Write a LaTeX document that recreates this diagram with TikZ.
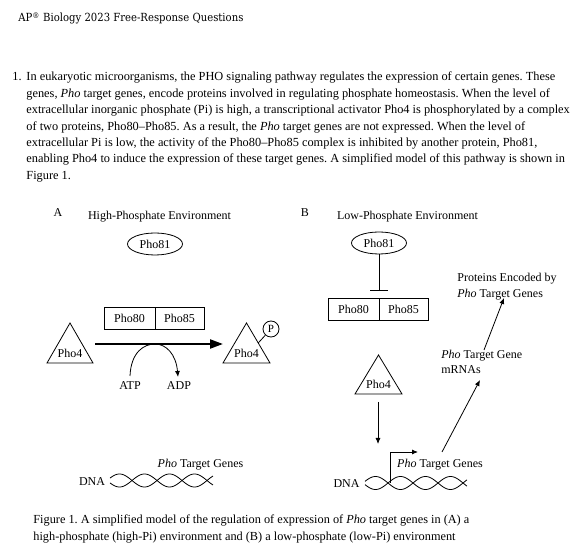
\documentclass[tikz,border=0pt]{standalone}
\usepackage{fontspec}
\setmainfont{Liberation Serif}
\newfontfamily\hdr{DejaVu Serif Condensed}
\usetikzlibrary{arrows.meta,shapes.geometric}
\begin{document}
\frenchspacing
\begin{tikzpicture}[x=1pt,y=-1pt,line width=0.8pt,
  every node/.style={inner sep=0pt},
  f/.style={font=\fontsize{12}{14}\selectfont},
  ln/.style={font=\fontsize{12.35}{14}\selectfont, anchor=base west},
  captxt/.style={font=\fontsize{12.3}{14}\selectfont, anchor=base west},
  cell/.style={draw, f, minimum height=22pt, line width=0.8pt},
  oval/.style={draw, ellipse, f, minimum width=55pt, minimum height=22pt, line width=0.8pt},
  arr/.style={-{Latex[length=6pt,width=5pt]}},
  helix/.style={line width=0.8pt}]
\useasboundingbox (0,0) rectangle (579,553);
\fill[white] (0,0) rectangle (579,553);

% header
\node[anchor=base west, font=\hdr\fontsize{11.2}{12}\selectfont] (hdr) at (18,22) {AP\textsuperscript{®} Biology 2023 Free-Response Questions};

% question text
\node[ln] (q1) at (12,81) {1.};
\node[ln] (l1) at (26,81) {In eukaryotic microorganisms, the PHO signaling pathway regulates the expression of certain genes. These};
\node[ln] (l2) at (26,97.4) {genes, \textit{Pho} target genes, encode proteins involved in regulating phosphate homeostasis. When the level of};
\node[ln] (l3) at (26,113.8) {extracellular inorganic phosphate (Pi) is high, a transcriptional activator Pho4 is phosphorylated by a complex};
\node[ln] (l4) at (26,130.2) {of two proteins, Pho80–Pho85. As a result, the \textit{Pho} target genes are not expressed. When the level of};
\node[ln] (l5) at (26,146.6) {extracellular Pi is low, the activity of the Pho80–Pho85 complex is inhibited by another protein, Pho81,};
\node[ln] (l6) at (26,163) {enabling Pho4 to induce the expression of these target genes. A simplified model of this pathway is shown in};
\node[ln] (l7) at (26,179.4) {Figure 1.};

% ---------- Panel A ----------
\node[f] (A) at (58,213) {A};
\node[f] (Ahead) at (159.5,217) {High-Phosphate Environment};
\node[oval] (a81) at (155,244) {Pho81};
\node[cell, minimum width=51pt] (a80) at (129.5,318) {Pho80};
\node[cell, minimum width=49pt] (a85) at (179.5,318) {Pho85};

\draw[line join=miter] (47,363) -- (70,323) -- (93,363) -- cycle;
\node[f] (pho4a) at (70,353) {Pho4};
\draw[line join=miter] (223,363) -- (246.5,323) -- (270,363) -- cycle;
\node[f] (pho4p) at (246.5,353) {Pho4};
\node[draw, circle, minimum size=16pt, font=\fontsize{11}{12}\selectfont] (pp) at (271,329) {P};
\coordinate (pl) at (258.2,343);
\draw (pl) -- (pp);

\coordinate (ba1) at (95,344);
\coordinate (ba2) at (223,344);
\draw[line width=2.2pt, -{Triangle[length=13pt,width=9pt]}] (ba1) -- (ba2);

\node[f] (atp) at (130,386) {ATP};
\node[f] (adp) at (179,386) {ADP};
\coordinate (c1) at (130,376);
\coordinate (c2) at (178,377);
\draw[arr] (c1) .. controls (131,352) and (144,344) .. (155,344) .. controls (166,344) and (176,354) .. (c2);

\node[f] (dnaa) at (92,482) {DNA};
\node[f] (pga) at (200.5,465) {\textit{Pho} Target Genes};
\draw[helix] plot[domain=110:213, samples=90, smooth] (\x, {480.5-6.5*sin(7.2*(\x-107))});
\draw[helix] plot[domain=110:213, samples=90, smooth] (\x, {480.5+6.5*sin(7.2*(\x-107))});

% ---------- Panel B ----------
\node[f] (B) at (305,213) {B};
\node[f] (Bhead) at (407.5,217) {Low-Phosphate Environment};
\node[oval] (b81) at (379,243) {Pho81};
\node[cell, minimum width=51pt] (b80) at (353.5,309) {Pho80};
\node[cell, minimum width=49pt] (b85) at (403.5,309) {Pho85};
\coordinate (bbar) at (379,291);
\draw[-{Bar[width=18pt]}] (b81) -- (bbar);

\node[f, align=left, anchor=north west, font=\fontsize{12}{16}\selectfont] (prot) at (457,273) {Proteins Encoded by\\\textit{Pho} Target Genes};
\node[f, align=left, anchor=north west, font=\fontsize{12}{15}\selectfont] (mrna) at (441,350) {\textit{Pho} Target Gene\\mRNAs};
\coordinate (p1) at (484,350);
\coordinate (p2) at (504,298);
\draw[arr] (p1) -- (p2);
\coordinate (m1) at (442,452);
\coordinate (m2) at (480,380);
\draw[arr] (m1) -- (m2);

\draw[line join=miter] (355,394) -- (378.5,355) -- (402,394) -- cycle;
\node[f] (pho4b) at (378.5,384) {Pho4};
\coordinate (d1) at (378,402);
\coordinate (d2) at (378,444);
\draw[arr] (d1) -- (d2);

\node[f] (dnab) at (346.5,484) {DNA};
\node[f] (pgb) at (440,465) {\textit{Pho} Target Genes};
\draw[helix] plot[domain=365:467, samples=90, smooth] (\x, {483-6.5*sin(7.2*(\x-363))});
\draw[helix] plot[domain=365:467, samples=90, smooth] (\x, {483+6.5*sin(7.2*(\x-363))});
\coordinate (pr0) at (390,483);
\coordinate (pr1) at (418,452);
\draw[arr] (pr0) |- (pr1);

% caption
\node[captxt] (cap1) at (33,523) {Figure 1. A simplified model of the regulation of expression of \textit{Pho} target genes in (A) a};
\node[captxt] (cap2) at (33,540) {high-phosphate (high-Pi) environment and (B) a low-phosphate (low-Pi) environment};
\end{tikzpicture}
\end{document}
